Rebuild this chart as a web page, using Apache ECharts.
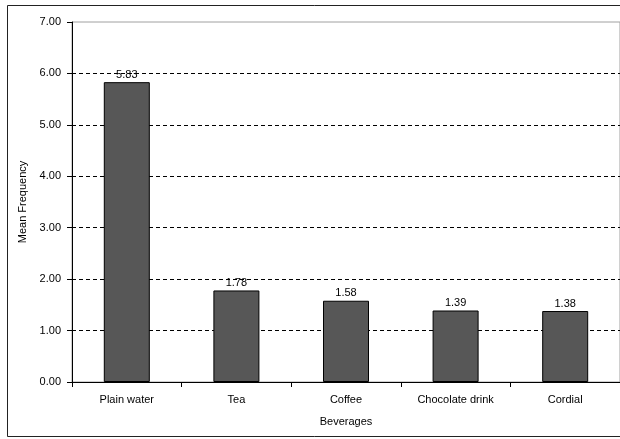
<!DOCTYPE html>
<html>
<head>
<meta charset="utf-8">
<script src="https://cdn.jsdelivr.net/npm/echarts@6/dist/echarts.min.js"></script>
<style>
  html, body { margin: 0; padding: 0; background: #fff; }
  #chart { width: 620px; height: 439px; }
</style>
</head>
<body>
<div id="chart"></div>
<script>
// Beverage consumption: mean frequency per drink
const beverages = ['Plain water', 'Tea', 'Coffee', 'Chocolate drink', 'Cordial'];
const meanFrequency = [5.83, 1.78, 1.58, 1.39, 1.38];
const yTicks = [0, 1, 2, 3, 4, 5, 6, 7];

const FONT = '"Liberation Sans", Arial, sans-serif';

const chart = echarts.init(document.getElementById('chart'), null, { renderer: 'canvas' });

chart.setOption({
  animation: false,
  backgroundColor: '#fff',
  textStyle: { fontFamily: FONT },
  graphic: [{
    type: 'rect',
    shape: { x: 7.5, y: 5.5, width: 700, height: 431 },
    style: { fill: 'none', stroke: '#222', lineWidth: 1 },
    silent: true,
    z: 100
  }],
  grid: {
    left: 72, top: 22, width: 552, height: 360,
    show: true, borderColor: '#a0a0a0', borderWidth: 1, backgroundColor: '#fff'
  },
  xAxis: {
    type: 'category',
    data: beverages,
    name: 'Beverages',
    nameLocation: 'middle',
    nameGap: 34,
    nameTextStyle: { color: '#000', fontSize: 11, fontFamily: FONT },
    axisLine: { lineStyle: { color: '#000', width: 1 } },
    axisTick: { show: true, length: 5, interval: 0, lineStyle: { color: '#000' } },
    axisLabel: { color: '#000', fontSize: 11, margin: 12, fontFamily: FONT, interval: 0 }
  },
  yAxis: {
    type: 'value',
    min: yTicks[0],
    max: yTicks[yTicks.length - 1],
    interval: 1,
    name: 'Mean Frequency',
    nameLocation: 'middle',
    nameGap: 40,
    nameRotate: 90,
    nameTextStyle: { color: '#000', fontSize: 11, fontFamily: FONT },
    axisLine: { show: true, lineStyle: { color: '#000', width: 1 } },
    axisTick: { show: true, length: 5, lineStyle: { color: '#000' } },
    axisLabel: {
      color: '#000', fontSize: 11, margin: 11, fontFamily: FONT,
      formatter: v => v.toFixed(2)
    },
    splitLine: {
      show: true,
      showMaxLine: false,
      lineStyle: { color: '#000', type: [4, 3], width: 1 }
    }
  },
  series: [{
    type: 'bar',
    data: meanFrequency,
    barWidth: 46,
    itemStyle: { color: '#575757', borderColor: '#000', borderWidth: 1 },
    label: {
      show: true,
      position: 'top',
      distance: 2,
      color: '#000',
      fontSize: 11,
      fontFamily: FONT,
      formatter: p => p.value.toFixed(2)
    }
  }]
});
</script>
</body>
</html>
